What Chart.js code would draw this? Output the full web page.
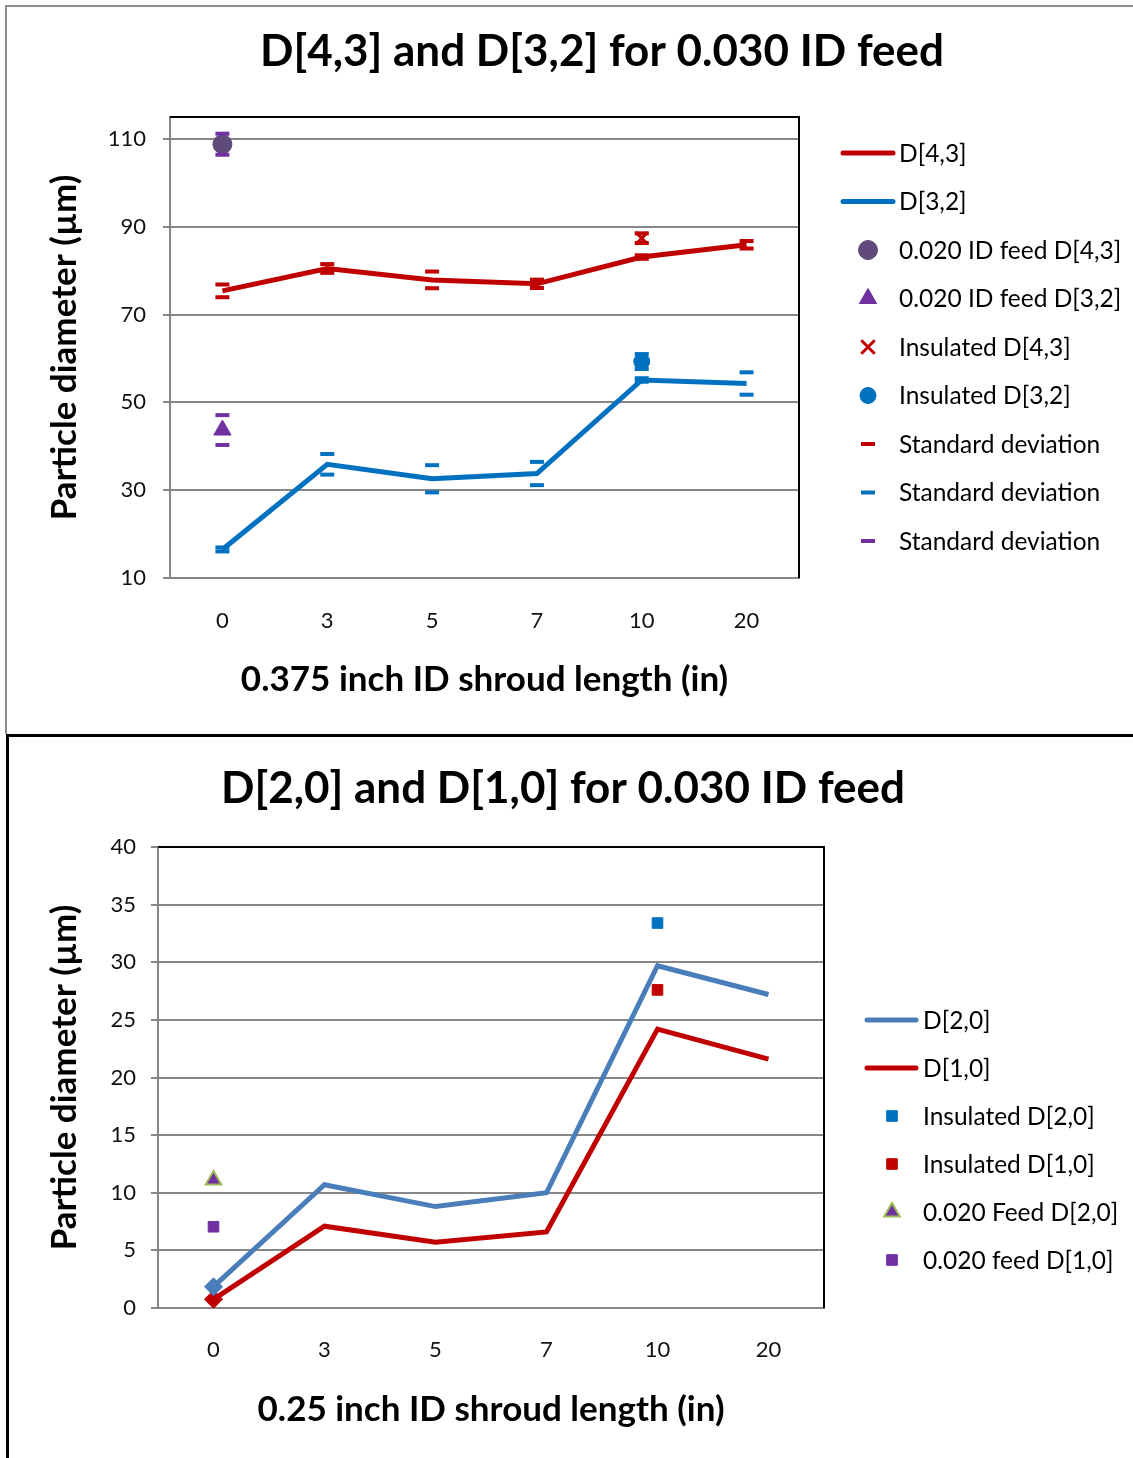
<!DOCTYPE html>
<html>
<head>
<meta charset="utf-8">
<script src="https://cdn.jsdelivr.net/npm/chart.js@4.4.0/dist/chart.umd.min.js"></script>
<style>
  body { margin: 0; background: #fff; width: 1133px; height: 1458px; overflow: hidden; position: relative; }
  .frame { position: absolute; box-sizing: content-box; }
  #topFrame { left: 5px; top: 5px; width: 1126px; height: 727px; border-left: 2px solid #8c8c8c; border-top: 2px solid #8c8c8c; }
  #botFrame { left: 6px; top: 734px; width: 1124px; height: 721px; border-left: 3px solid #000; border-top: 3px solid #000; }
  canvas { position: absolute; left: 0; top: 0; }
</style>
</head>
<body>
<div class="frame" id="topFrame"><canvas id="topChart" width="1126" height="727"></canvas></div>
<div class="frame" id="botFrame"><canvas id="botChart" width="1124" height="721"></canvas></div>
<script>
// shroud lengths (category axis)
const lengths = ['0', '3', '5', '7', '10', '20'];

// --- top chart: D[4,3] and D[3,2] ---
const d43 = [75.4, 80.5, 77.9, 77.0, 83.1, 85.9];
const d43Sd = [1.45, 1.0, 1.9, 0.95, 0.4, 0.85];
const d32 = [16.5, 35.9, 32.6, 33.8, 55.1, 54.3];
const d32Sd = [0.45, 2.35, 3.1, 2.65, 0.4, 2.55];
const feed020D43 = [108.8, null, null, null, null, null];
const feed020D43Sd = [2.4, null, null, null, null, null];
const feed020D32 = [43.7, null, null, null, null, null];
const feed020D32Sd = [3.4, null, null, null, null, null];
const insD43 = [null, null, null, null, 87.4, null];
const insD43Sd = [null, null, null, null, 1.1, null];
const insD32 = [null, null, null, null, 59.3, null];
const insD32Sd = [null, null, null, null, 1.7, null];
const topTicks = [10, 30, 50, 70, 90, 110];

// --- bottom chart: D[2,0] and D[1,0] ---
const d20 = [1.85, 10.7, 8.8, 10.0, 29.7, 27.2];
const d10 = [0.75, 7.1, 5.7, 6.6, 24.2, 21.6];
const insD20 = [null, null, null, null, 33.4, null];
const insD10 = [null, null, null, null, 27.6, null];
const feed020D20 = [11.1, null, null, null, null, null];
const feed020D10 = [7.05, null, null, null, null, null];
const botTicks = [0, 5, 10, 15, 20, 25, 30, 35, 40];

const FONT = 'Lato, "Open Sans", sans-serif';
Chart.defaults.font.family = FONT;
Chart.defaults.color = '#000';

// turn mean +/- sd into pairs of points for the dash markers
function sdPoints(means, sds) {
  const pts = [];
  means.forEach((m, i) => {
    if (m == null) return;
    pts.push({x: lengths[i], y: m + sds[i]});
    pts.push({x: lengths[i], y: m - sds[i]});
  });
  return pts;
}

// title + legend + black plot frame, drawn by hand
const extras = {
  id: 'extras',
  afterDraw(chart, args, o) {
    const ctx = chart.ctx;
    const a = chart.chartArea;
    ctx.save();
    // top and right edge of the plot are black
    ctx.strokeStyle = '#000';
    ctx.lineWidth = 2;
    ctx.beginPath();
    ctx.moveTo(a.left, a.top);
    ctx.lineTo(a.right, a.top);
    ctx.lineTo(a.right, a.bottom);
    ctx.stroke();

    ctx.fillStyle = '#000';
    ctx.textAlign = 'center';
    ctx.textBaseline = 'middle';
    ctx.font = 'bold 44px ' + FONT;
    ctx.fillText(o.title, o.titleX, o.titleY);

    ctx.textAlign = 'left';
    ctx.font = '24.5px ' + FONT;
    chart.data.datasets.forEach((ds, i) => {
      const y = o.legTop + i * o.legGap;
      if (ds.showLine !== false) {
        ctx.strokeStyle = ds.borderColor;
        ctx.lineWidth = ds.borderWidth;
        ctx.lineCap = 'round';
        ctx.beginPath();
        ctx.moveTo(o.lineX0, y);
        ctx.lineTo(o.lineX1, y);
        ctx.stroke();
      } else {
        ctx.fillStyle = ds.pointBackgroundColor;
        ctx.strokeStyle = ds.pointBorderColor;
        ctx.lineWidth = ds.pointBorderWidth;
        ctx.lineCap = 'butt';
        Chart.helpers.drawPoint(ctx, {
          pointStyle: ds.pointStyle, radius: ds.legendRadius || ds.pointRadius,
          rotation: 0, borderWidth: ds.pointBorderWidth
        }, o.markX, y);
      }
      ctx.fillStyle = '#000';
      ctx.fillText(ds.label, o.textX, y + 1);
    });
    ctx.restore();
  }
};

function lineSet(label, data, color, extra) {
  return Object.assign({
    label: label, data: data, borderColor: color, backgroundColor: color,
    borderWidth: 5, pointRadius: 0, tension: 0, order: 10
  }, extra || {});
}

function markSet(label, data, style, fill, border, radius, bw, extra) {
  return Object.assign({
    label: label, data: data, showLine: false, pointStyle: style,
    pointBackgroundColor: fill, pointBorderColor: border, backgroundColor: fill, borderColor: border,
    pointRadius: radius, pointHoverRadius: radius, pointBorderWidth: bw, order: 1
  }, extra || {});
}

function axes(cfg) {
  return {
    x: {
      type: 'category',
      labels: lengths,
      offset: true,
      grid: { display: false, drawTicks: false },
      border: { display: true, color: '#878787', width: 2 },
      ticks: { padding: cfg.xPad, font: { size: 22 }, color: '#111' },
      title: { display: true, text: cfg.xTitle, font: { size: 35, weight: 'bold' }, padding: { top: 0, bottom: cfg.xTitlePad } },
      afterFit: s => { s.height = cfg.xHeight; }
    },
    y: {
      min: cfg.min, max: cfg.max,
      afterBuildTicks: s => { s.ticks = cfg.ticks.map(v => ({value: v})); },
      grid: { color: '#878787', lineWidth: 2, tickLength: 7, drawTicks: true },
      border: { display: true, color: '#878787', width: 2 },
      ticks: { padding: cfg.yPad, font: { size: 22 }, color: '#111' },
      title: { display: true, text: 'Particle diameter (µm)', font: { size: 35, weight: 'bold' }, padding: { top: cfg.yTitlePad, bottom: 0 } },
      afterFit: s => { s.width = cfg.yWidth; }
    }
  };
}

new Chart(document.getElementById('topChart'), {
  type: 'line',
  data: {
    labels: lengths,
    datasets: [
      lineSet('D[4,3]', d43, '#C00000'),
      lineSet('D[3,2]', d32, '#0070C0'),
      markSet('0.020 ID feed D[4,3]', feed020D43, 'circle', '#604A7B', '#604A7B', 9.5, 1, { order: 2 }),
      markSet('0.020 ID feed D[3,2]', feed020D32, 'triangle', '#7030A0', '#7030A0', 10, 1, { order: 2 }),
      markSet('Insulated D[4,3]', insD43, 'crossRot', '#C00000', '#C00000', 8.5, 3, { order: 2, legendRadius: 9.5 }),
      markSet('Insulated D[3,2]', insD32, 'circle', '#0070C0', '#0070C0', 8, 1, { order: 2 }),
      markSet('Standard deviation', sdPoints(d43, d43Sd).concat(sdPoints(insD43, insD43Sd)), 'line', '#C00000', '#C00000', 7, 4),
      markSet('Standard deviation', sdPoints(d32, d32Sd).concat(sdPoints(insD32, insD32Sd)), 'line', '#0070C0', '#0070C0', 7, 4),
      markSet('Standard deviation', sdPoints(feed020D43, feed020D43Sd).concat(sdPoints(feed020D32, feed020D32Sd)), 'line', '#7030A0', '#7030A0', 7, 4)
    ]
  },
  options: {
    responsive: false,
    animation: false,
    events: [],
    layout: { padding: { left: 10, top: 110, right: 334, bottom: 10 } },
    scales: axes({ min: 10, max: 115, ticks: topTicks, xTitle: '0.375 inch ID shroud length (in)',
      xPad: 30, xTitlePad: 23, xHeight: 146, yPad: 17, yTitlePad: 27, yWidth: 153 }),
    plugins: {
      legend: { display: false },
      tooltip: { enabled: false },
      extras: { title: 'D[4,3] and D[3,2] for 0.030 ID feed', titleX: 595, titleY: 45,
        legTop: 146, legGap: 48.5, lineX0: 836, lineX1: 886, markX: 861, textX: 892 }
    }
  },
  plugins: [extras]
});

new Chart(document.getElementById('botChart'), {
  type: 'line',
  data: {
    labels: lengths,
    datasets: [
      lineSet('D[2,0]', d20, '#4A7EBB', { pointStyle: 'rectRot', pointRadius: c => c.dataIndex === 0 ? 6 : 0 }),
      lineSet('D[1,0]', d10, '#C00000', { pointStyle: 'rectRot', pointRadius: c => c.dataIndex === 0 ? 6 : 0 }),
      markSet('Insulated D[2,0]', insD20, 'rect', '#0070C0', '#0070C0', 7.5, 1),
      markSet('Insulated D[1,0]', insD10, 'rect', '#C00000', '#C00000', 7.5, 1),
      markSet('0.020 Feed D[2,0]', feed020D20, 'triangle', '#7030A0', '#9BBB59', 9, 2),
      markSet('0.020 feed D[1,0]', feed020D10, 'rect', '#7030A0', '#7030A0', 7.5, 1)
    ]
  },
  options: {
    responsive: false,
    animation: false,
    events: [],
    layout: { padding: { left: 10, top: 110, right: 309, bottom: 10 } },
    scales: axes({ min: 0, max: 40, ticks: botTicks, xTitle: '0.25 inch ID shroud length (in)',
      xPad: 29, xTitlePad: 17, xHeight: 140, yPad: 15, yTitlePad: 25, yWidth: 139 }),
    plugins: {
      legend: { display: false },
      tooltip: { enabled: false },
      extras: { title: 'D[2,0] and D[1,0] for 0.030 ID feed', titleX: 554, titleY: 52,
        legTop: 283, legGap: 48, lineX0: 858, lineX1: 907, markX: 883, textX: 914 }
    }
  },
  plugins: [extras]
});
</script>
</body>
</html>
